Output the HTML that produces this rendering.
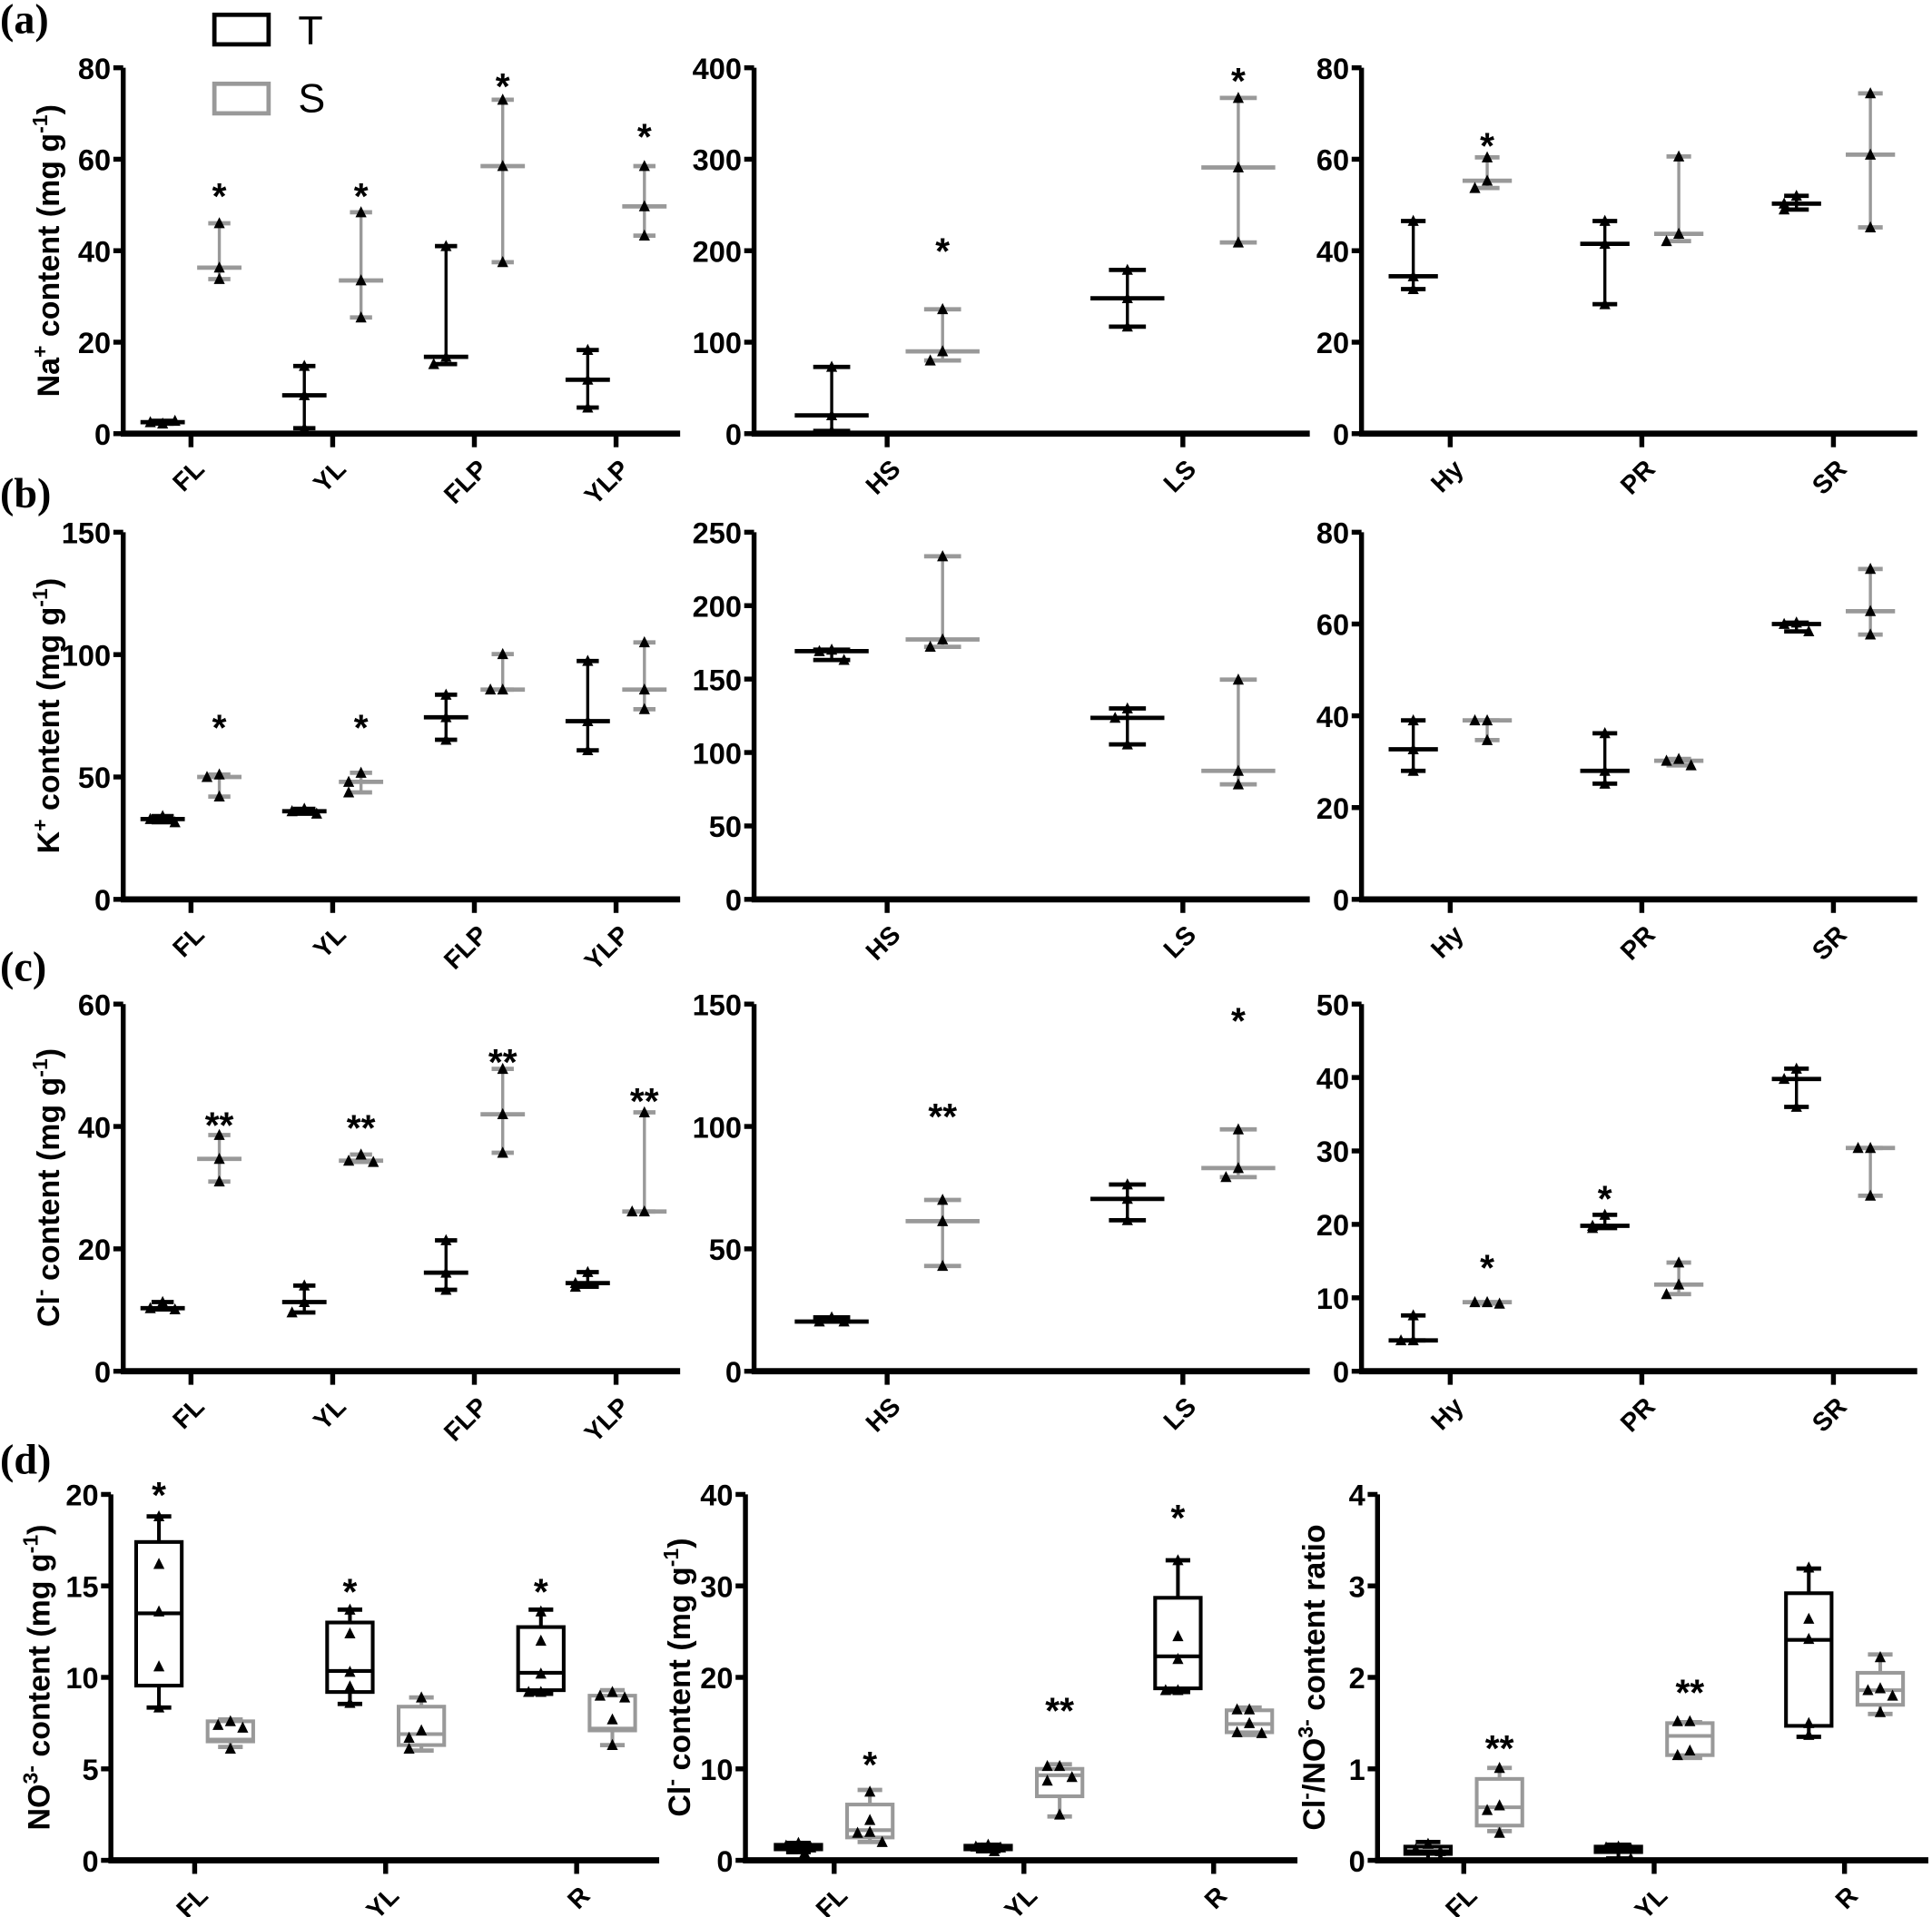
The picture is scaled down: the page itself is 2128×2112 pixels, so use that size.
<!DOCTYPE html>
<html><head><meta charset="utf-8"><title>Ion content chart</title>
<style>
html,body{margin:0;padding:0;background:#fff;}
svg{display:block;}
text{font-family:"Liberation Sans",Arial,sans-serif;}
.tick{font-family:"Liberation Sans Narrow","Liberation Sans",sans-serif;font-weight:bold;font-size:24px;}
.cat{font-weight:bold;font-size:21px;}
.ylab{font-weight:bold;font-size:25px;}
.star{font-weight:bold;font-size:30px;}
.plab{font-family:"Liberation Serif",serif;font-weight:bold;font-size:34px;}
</style></head>
<body>
<svg id="chart" width="2128" height="2112" viewBox="0 0 1568 1556" preserveAspectRatio="none" xmlns="http://www.w3.org/2000/svg">
  <text class="plab" x="0" y="27">(a)</text>
  <text class="plab" x="0" y="412">(b)</text>
  <text class="plab" x="0" y="796">(c)</text>
  <text class="plab" x="0" y="1196">(d)</text>
  <g>
    <rect x="174" y="12" width="44" height="24" fill="none" stroke="#000" stroke-width="3.5"/>
    <text x="242" y="36" font-size="33">T</text>
    <rect x="174" y="68" width="44" height="24" fill="none" stroke="#999" stroke-width="3.5"/>
    <text x="242" y="91" font-size="33">S</text>
  </g>
</svg>
<script>
// ---------- data ----------
const catsLeaf = ['FL','YL','FLP','YLP'];
const catsStem = ['HS','LS'];
const catsRoot = ['Hy','PR','SR'];
const catsD = ['FL','YL','R'];

const ticksNa1 = [0,20,40,60,80];
const ticksNa2 = [0,100,200,300,400];
const ticksNa3 = [0,20,40,60,80];
const ticksK1 = [0,50,100,150];
const ticksK2 = [0,50,100,150,200,250];
const ticksK3 = [0,20,40,60,80];
const ticksCl1 = [0,20,40,60];
const ticksCl2 = [0,50,100,150];
const ticksCl3 = [0,10,20,30,40,50];
const ticksNO3 = [0,5,10,15,20];
const ticksClD = [0,10,20,30,40];
const ticksRatio = [0,1,2,3,4];

const naLeafT = [[2.2,2.5,2.8],[14.8,8.4,1.2],[41,16.8,15.2],[18.3,11.8,5.7]];
const naLeafS = [[46,36.3,33.8],[48.4,33.5,25.4],[73,58.5,37.5],[58.5,49.7,43.3]];
const naLeafStars = ['*','*','*','*'];
const naLeafStarY = [54,54,78,67];
const naStemT = [[73,20,3],[179,148,117]];
const naStemS = [[136,90,80],[367,291,209]];
const naStemStars = ['*','*'];
const naStemStarY = [210,396];
const naRootT = [[46.5,34.4,31.6],[46.5,41.5,28.3],[52,50.3,49]];
const naRootS = [[60.4,55.3,53.7],[60.6,43.7,42.1],[74.4,61,45.1]];
const naRootStars = ['*','',''];
const naRootStarY = [65,0,0];

const kLeafT = [[34,32.8,31.5],[37,36,35],[83.6,74.4,65.2],[97.4,72.8,60.9]];
const kLeafS = [[51,50,42],[51.7,48,43.7],[100.2,85.7,85.7],[105,85.7,77.7]];
const kLeafStars = ['*','*','',''];
const kLeafStarY = [74,74,0,0];
const kStemT = [[170,169,163],[130,123.6,105.5]];
const kStemS = [[233.6,177,172],[149.6,87.5,78.3]];
const kRootT = [[39,32.7,28],[36.2,28,25.2],[60.3,60,58.4]];
const kRootS = [[39,39,34.7],[30.6,30.2,29.2],[72,62.8,57.7]];

const clLeafT = [[11.3,10.3,10.1],[14,11.3,9.6],[21.4,16.1,13.3],[16.2,14.4,13.8]];
const clLeafS = [[38.6,34.7,31],[35.4,34.4,34.2],[49.4,42,35.7],[42.3,26.1,26.1]];
const clLeafStars = ['**','**','**','**'];
const clLeafStarY = [41.8,41.3,52.1,45.7];
const clStemT = [[22,20.3,20.3],[76.3,70.4,61.7]];
const clStemS = [[70,61.3,43],[98.8,83,79.3]];
const clStemStars = ['**','*'];
const clStemStarY = [108,147];
const clRootT = [[7.6,4.2,4.2],[21.3,19.8,19.5],[41.2,39.8,36]];
const clRootS = [[9.4,9.4,9.2],[14.8,11.8,10.5],[30.4,30.4,23.9]];
const clRootStars = ['*','*',''];
const clRootStarY = [15.4,24.8,0];
const clRootStarSeries = ['S','T','S'];

// box plots: [min, q1, median, q3, max]
const no3BoxT = [[8.35,9.55,13.5,17.4,18.8],[8.55,9.2,10.35,13.0,13.7],[9.1,9.3,10.25,12.75,13.7]];
const no3PtsT = [[18.8,16.2,13.6,10.6,8.35],[13.7,12.4,10.3,9.5,8.6],[13.6,12.0,10.2,9.2,9.2]];
const no3BoxS = [[6.2,6.5,6.6,7.6,7.7],[6.0,6.3,6.9,8.4,8.9],[6.3,7.1,7.2,9.0,9.3]];
const no3PtsS = [[7.6,7.4,7.25,6.1],[8.9,7.1,6.7,6.1],[9.2,9.0,8.9,7.7,6.3]];
const no3Stars = ['*','*','*'];
const no3StarY = [20.5,15.2,15.2];
const no3StarSeries = ['T','T','T'];

const clDBoxT = [[0.9,1.2,1.4,1.7,1.9],[1.0,1.2,1.4,1.6,1.7],[18.4,18.8,22.3,28.7,32.8]];
const clDPtsT = [[1.9,1.6,1.4,1.2,0.8],[1.7,1.5,1.4,1.3,1.0],[32.8,24.5,22,18.6,18.6]];
const clDBoxS = [[2.0,2.5,3.3,6.1,7.7],[4.8,7.0,9.3,10.0,10.5],[13.7,14.0,14.9,16.4,16.7]];
const clDPtsS = [[7.5,4.4,3.1,3.0,2.0],[10.3,10.3,9.1,8.7,5.0],[16.5,16.5,15.0,14.0,13.9]];
const clDStars = ['*','**','*'];
const clDStarY = [11.5,17.4,38.5];
const clDStarSeries = ['S','S','T'];

const ratioBoxT = [[0.0,0.07,0.1,0.15,0.2],[0.02,0.09,0.12,0.15,0.17],[1.35,1.47,2.41,2.92,3.19]];
const ratioPtsT = [[0.18,0.12,0.1,0.02],[0.15,0.14,0.13,0.02],[3.2,2.64,2.42,1.5,1.37]];
const ratioBoxS = [[0.32,0.38,0.58,0.89,1.01],[1.12,1.15,1.36,1.5,1.51],[1.6,1.7,1.86,2.05,2.25]];
const ratioPtsS = [[1.01,0.6,0.55,0.3],[1.52,1.52,1.2,1.15],[2.22,1.88,1.86,1.8,1.62]];
const ratioStars = ['**','**',''];
const ratioStarY = [1.33,1.94,0];
const ratioStarSeries = ['S','S','S'];

// ---------- drawing ----------
const NS = 'http://www.w3.org/2000/svg';
const svg = document.getElementById('chart');
const GRAY = '#999';
function mk(tag, parent){ const e = document.createElementNS(NS, tag); parent.appendChild(e); return e; }
function line(p, x1,y1,x2,y2, col, w){ const l = mk('line', p); l.setAttribute('x1',x1); l.setAttribute('y1',y1); l.setAttribute('x2',x2); l.setAttribute('y2',y2); l.setAttribute('stroke',col); l.setAttribute('stroke-width',w); return l; }
function tri(p, x, y){ const t = mk('polygon', p); t.setAttribute('points', `${x-4.5},${y+4} ${x+4.5},${y+4} ${x},${y-5}`); t.setAttribute('fill','#000'); return t; }

function makeAxes(cfg){
  const g = mk('g', svg);
  
  
  const y = v => cfg.y0 - (v / cfg.max) * (cfg.y0 - cfg.yTop);
  const xc = i => cfg.firstTick + i * cfg.step;
  const ya = line(g, cfg.x0, cfg.yTop, cfg.x0, cfg.y0 + 2, '#000', 4);
  
  
  const xa = line(g, cfg.x0 - 2, cfg.y0, cfg.x1, cfg.y0, '#000', 5);
  
  
  cfg.ticks.forEach(t => {
    const tl = line(g, cfg.x0 - 8, y(t), cfg.x0, y(t), '#000', 4);
    
    
    const tx = mk('text', g);
    
    
    tx.setAttribute('class','tick'); tx.setAttribute('x', cfg.x0 - 10); tx.setAttribute('y', y(t) + 9);
    tx.setAttribute('text-anchor','end'); tx.textContent = t;
  });
  cfg.cats.forEach((c, i) => {
    const tl = line(g, xc(i), cfg.y0, xc(i), cfg.y0 + 11, '#000', 4);
    
    
    const tx = mk('text', g);
    
    
    const ax = xc(i) + 12, ay = cfg.y0 + 30;
    tx.setAttribute('class','cat'); tx.setAttribute('x', ax); tx.setAttribute('y', ay);
    tx.setAttribute('text-anchor','end'); tx.setAttribute('transform', `rotate(-45 ${ax} ${ay})`);
    tx.textContent = c;
  });
  const yl = mk('text', g);
  
  
  if (cfg.ylabel){
    const lx = cfg.labelX, ly = (cfg.y0 + cfg.yTop) / 2;
    yl.setAttribute('class','ylab'); yl.setAttribute('x', lx); yl.setAttribute('y', ly);
    yl.setAttribute('text-anchor','middle'); yl.setAttribute('transform', `rotate(-90 ${lx} ${ly})`);
    yl.innerHTML = cfg.ylabel;
  }
  return {g, y, xc};
}

function jitterX(ys, cx){
  const xs = []; const off = [0,-10,10,-5,5];
  ys.forEach((py, i) => {
    let k = 0;
    const near = xs.filter((xx, j) => Math.abs(ys[j] - py) < 9);
    k = near.length;
    xs.push(cx + off[k % off.length]);
  });
  return xs;
}

function drawStar(ax, txt, x, v){
  if (!txt) return;
  const s = mk('text', ax.g);
  
  
  s.setAttribute('class','star'); s.setAttribute('x', x); s.setAttribute('y', ax.y(v) + 18);
  s.setAttribute('text-anchor','middle'); s.textContent = txt;
}

function rangePlot(ax, series, col, dx, medW){
  series.forEach((pts, i) => {
    const sorted = pts.slice().sort((a,b)=>a-b);
    const mn = sorted[0], mx = sorted[sorted.length-1], md = sorted[Math.floor(sorted.length/2)];
    const cx = ax.xc(i) + dx;
    const g = mk('g', ax.g);
    
    
    line(g, cx, ax.y(mx), cx, ax.y(mn), col, 2.5);
    line(g, cx - medW/2, ax.y(md), cx + medW/2, ax.y(md), col, 3.5);
    line(g, cx - medW/4, ax.y(mx), cx + medW/4, ax.y(mx), col, 3.5);
    line(g, cx - medW/4, ax.y(mn), cx + medW/4, ax.y(mn), col, 3.5);
    const ys = pts.map(v => ax.y(v));
    const xs = jitterX(ys, cx);
    ys.forEach((py, j) => {
      const t = tri(g, xs[j], py);
      
      
    });
  });
}

function boxPlot(ax, boxes, ptsArr, col, dx){
  boxes.forEach((b, i) => {
    const cx = ax.xc(i) + dx, w = 37;
    const g = mk('g', ax.g);
    
    
    line(g, cx, ax.y(b[4]), cx, ax.y(b[3]), col, 3);
    line(g, cx, ax.y(b[1]), cx, ax.y(b[0]), col, 3);
    line(g, cx - 10, ax.y(b[4]), cx + 10, ax.y(b[4]), col, 3.5);
    line(g, cx - 10, ax.y(b[0]), cx + 10, ax.y(b[0]), col, 3.5);
    const r = mk('rect', g);
    r.setAttribute('x', cx - w/2); r.setAttribute('y', ax.y(b[3]));
    r.setAttribute('width', w); r.setAttribute('height', Math.max(ax.y(b[1]) - ax.y(b[3]), 0.5));
    r.setAttribute('fill','#fff'); r.setAttribute('stroke', col); r.setAttribute('stroke-width', 3);
    line(g, cx - w/2, ax.y(b[2]), cx + w/2, ax.y(b[2]), col, 3);
    const ys = ptsArr[i].map(v => ax.y(v));
    const xs = jitterX(ys, cx);
    ys.forEach((py, j) => {
      const t = tri(g, xs[j], py);
      
      
    });
  });
}

const C1 = {x0:100, x1:552, firstTick:155, step:115};
const C2 = {x0:612, x1:1063, firstTick:720, step:240};
const C3 = {x0:1105, x1:1556, firstTick:1177, step:155.5};
const R = {a:[55,352], b:[432,730], c:[815,1113], d:[1213,1510]};

function dotPanel(name, col, row, cats, ticks, T, S, dx, medW, ylabel, stars, starY, starSeries){
  const ax = makeAxes(Object.assign({}, col, {name, yTop:row[0], y0:row[1], max:ticks[ticks.length-1], ticks, cats, ylabel, labelX:48}));
  rangePlot(ax, T, '#000', -dx, medW);
  rangePlot(ax, S, GRAY, dx, medW);
  if (stars) stars.forEach((s, i) => drawStar(ax, s, ax.xc(i) + ((starSeries && starSeries[i]==='T') ? -dx : dx), starY[i]));
}

const sup = (a) => `<tspan baseline-shift="super" font-size="17">${a}</tspan>`;
dotPanel('na-leaf-panel', C1, R.a, catsLeaf, ticksNa1, naLeafT, naLeafS, 23, 36, `Na${sup('+')} content (mg g${sup('-1')})`, naLeafStars, naLeafStarY);
dotPanel('na-stem-panel', C2, R.a, catsStem, ticksNa2, naStemT, naStemS, 45, 60, '', naStemStars, naStemStarY);
dotPanel('na-root-panel', C3, R.a, catsRoot, ticksNa3, naRootT, naRootS, 30, 40, '', naRootStars, naRootStarY);
dotPanel('k-leaf-panel', C1, R.b, catsLeaf, ticksK1, kLeafT, kLeafS, 23, 36, `K${sup('+')} content (mg g${sup('-1')})`, kLeafStars, kLeafStarY);
dotPanel('k-stem-panel', C2, R.b, catsStem, ticksK2, kStemT, kStemS, 45, 60, '', null, null);
dotPanel('k-root-panel', C3, R.b, catsRoot, ticksK3, kRootT, kRootS, 30, 40, '', null, null);
dotPanel('cl-leaf-panel', C1, R.c, catsLeaf, ticksCl1, clLeafT, clLeafS, 23, 36, `Cl${sup('-')} content (mg g${sup('-1')})`, clLeafStars, clLeafStarY);
dotPanel('cl-stem-panel', C2, R.c, catsStem, ticksCl2, clStemT, clStemS, 45, 60, '', clStemStars, clStemStarY);
dotPanel('cl-root-panel', C3, R.c, catsRoot, ticksCl3, clRootT, clRootS, 30, 40, '', clRootStars, clRootStarY, clRootStarSeries);

function boxPanel(name, col, ticks, BT, PT, BS, PS, ylabel, labelX, stars, starY, starSeries){
  const ax = makeAxes(Object.assign({}, col, {name, yTop:R.d[0], y0:R.d[1], max:ticks[ticks.length-1], ticks, cats:catsD, ylabel, labelX}));
  boxPlot(ax, BT, PT, '#000', -29);
  boxPlot(ax, BS, PS, GRAY, 29);
  stars.forEach((s, i) => drawStar(ax, s, ax.xc(i) + (starSeries[i]==='T' ? -29 : 29), starY[i]));
}
boxPanel('no3-panel', {x0:90, x1:535, firstTick:158, step:155}, ticksNO3, no3BoxT, no3PtsT, no3BoxS, no3PtsS, `NO${sup('3-')} content (mg g${sup('-1')})`, 40, no3Stars, no3StarY, no3StarSeries);
boxPanel('cl-d-panel', {x0:605, x1:1053, firstTick:677, step:154}, ticksClD, clDBoxT, clDPtsT, clDBoxS, clDPtsS, `Cl${sup('-')} content (mg g${sup('-1')})`, 560, clDStars, clDStarY, clDStarSeries);
boxPanel('ratio-panel', {x0:1118, x1:1565, firstTick:1188, step:154.5}, ticksRatio, ratioBoxT, ratioPtsT, ratioBoxS, ratioPtsS, `Cl${sup('-')}/NO${sup('3-')} content ratio`, 1075, ratioStars, ratioStarY, ratioStarSeries);
</script>
</body></html>
